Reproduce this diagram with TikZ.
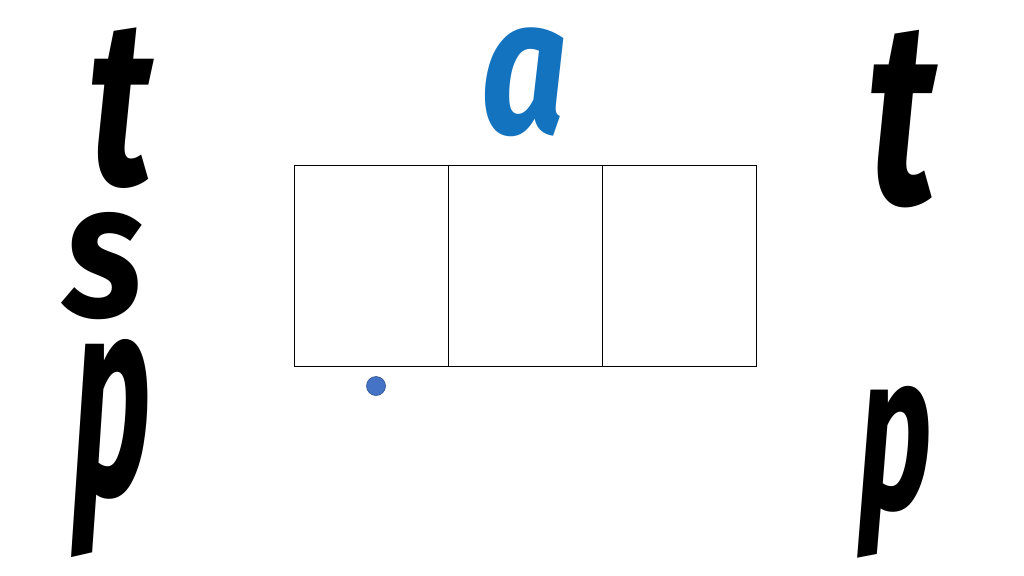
\documentclass[tikz,border=0pt]{standalone}
\usepackage{fontspec}
\setmainfont{Fira Sans}
\usepackage{xcolor}
\usepackage{graphicx}
\usetikzlibrary{positioning}

\definecolor{letterblue}{RGB}{20,115,190}
\definecolor{dotblue}{RGB}{68,114,196}
\definecolor{dotedge}{RGB}{47,82,143}

% one big letter: size, horizontal squeeze, letter
\newcommand{\bigletter}[3]{\scalebox{#2}[1]{\fontsize{#1}{#1}\selectfont #3}}

\tikzset{
    letter/.style={inner sep=0pt, outer sep=0pt, anchor=base, font=\bfseries\itshape},
    soundbox/.style={draw, line width=0.9pt, inner sep=0pt, outer sep=0pt, minimum width=154pt, minimum height=201pt, anchor=west}
}

\begin{document}
\begin{tikzpicture}[x=1pt,y=1pt,yscale=-1,xscale=1]
    \path[use as bounding box, fill=white] (0,0) rectangle (1024,575);
    
    %Shape: Rectangle [sound boxes]
    \node (boxone) [soundbox] at (294,265.5) {};
    \node (boxtwo) [soundbox, right=0pt of boxone] {};
    \node (boxthree) [soundbox, right=0pt of boxtwo] {};
    
    %Shape: Circle [dot]
    \node (dot) [circle, fill=dotblue, draw=dotedge, line width=0.6pt, minimum size=19pt, inner sep=0pt] at (376,386) {};
    
    % Text Node
    \node (vowel) [letter, text=letterblue, text height=108pt, text depth=7pt] at (525,133) {\bigletter{193}{0.78}{a}};
    % Text Node
    \node (tleft) [letter, text height=156pt, text depth=8pt] at (120,184) {\bigletter{236}{0.72}{t}};
    % Text Node
    \node (sleft) [letter, text height=104pt, text depth=4pt] at (104,316) {\bigletter{190}{0.88}{s}};
    % Text Node
    \node (pleft) [letter, text height=150pt, text depth=63pt] at (112,494) {\bigletter{283}{0.48}{p}};
    % Text Node
    \node (tright) [letter, text height=172pt, text depth=9pt] at (902,203) {\bigletter{261}{0.70}{t}};
    % Text Node
    \node (pright) [letter, text height=131pt, text depth=49pt] at (895,508) {\bigletter{223}{0.57}{p}};
    
\end{tikzpicture}
\end{document}
